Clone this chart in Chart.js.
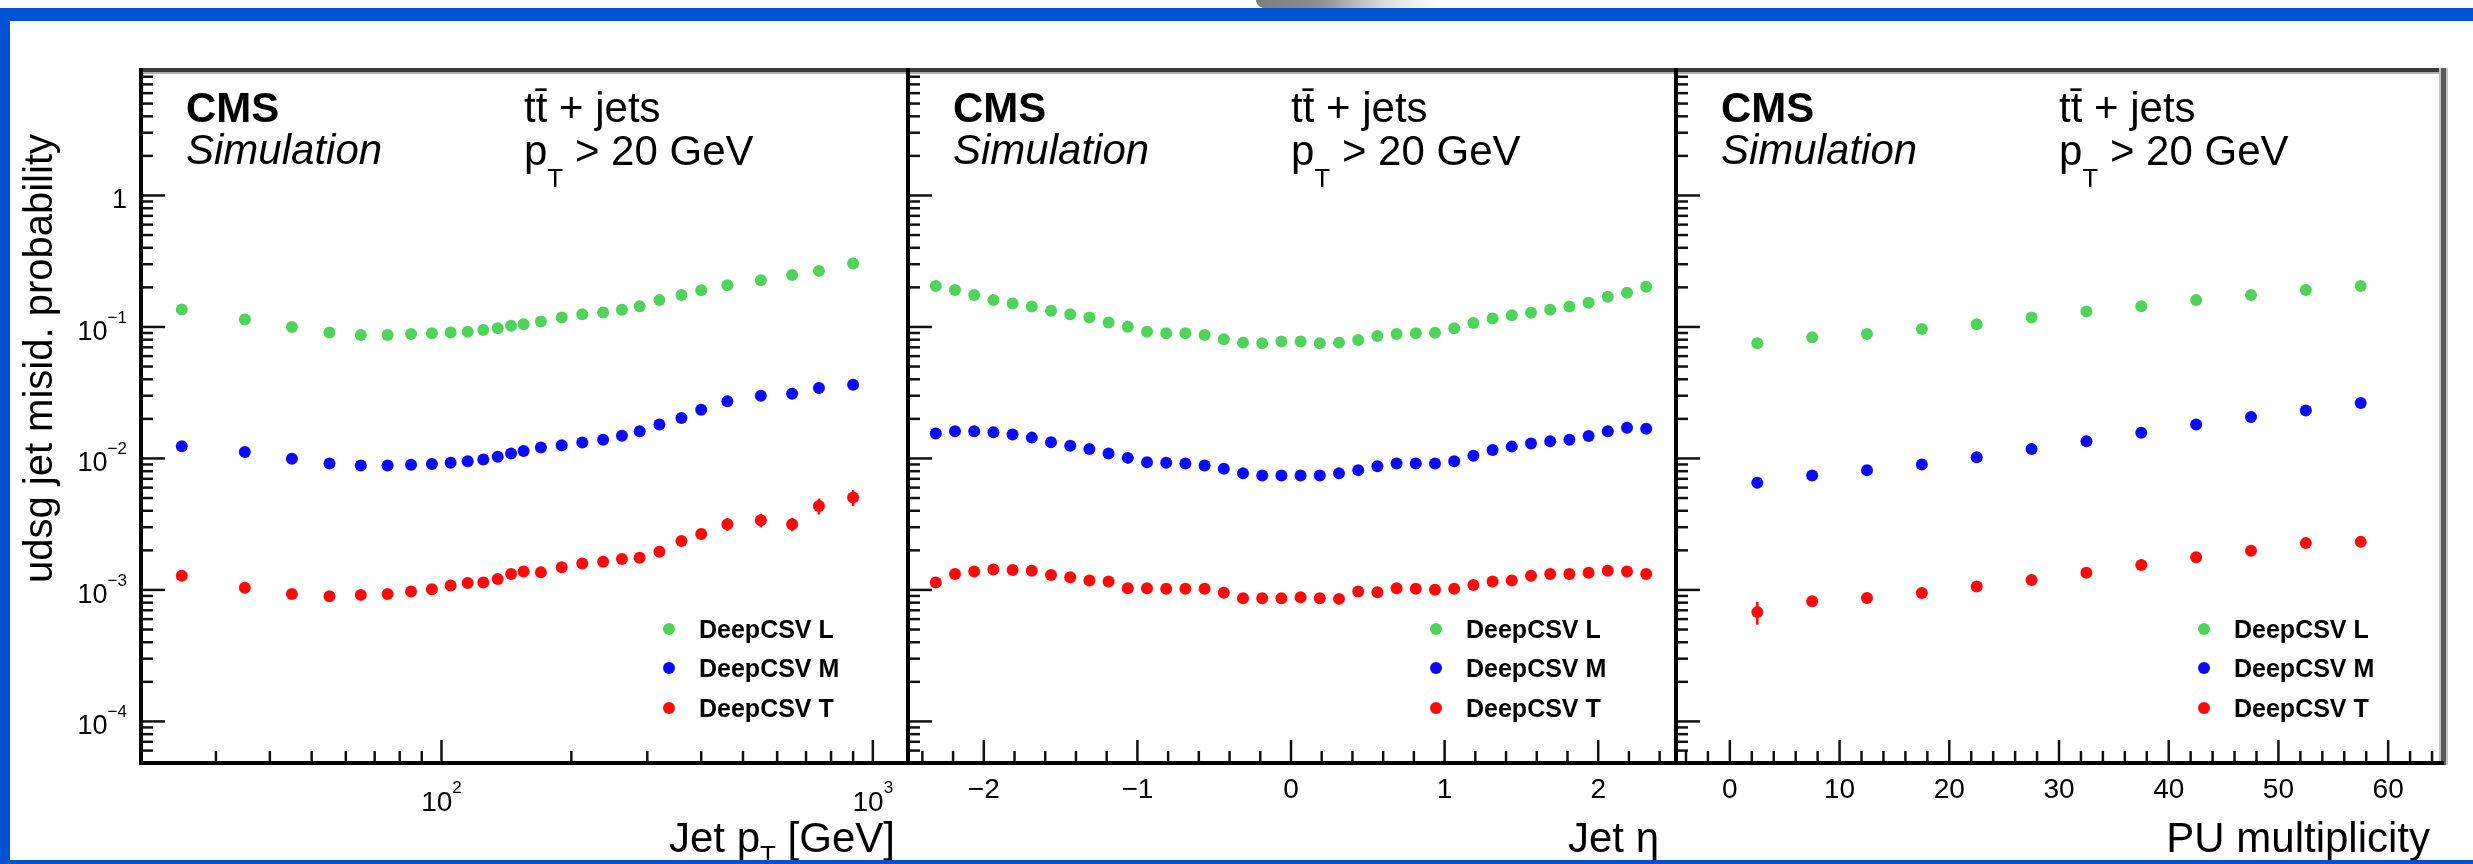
<!DOCTYPE html>
<html>
<head>
<meta charset="utf-8">
<title>udsg jet misidentification probability</title>
<script src="https://cdn.jsdelivr.net/npm/chart.js@4.4.1/dist/chart.umd.min.js"></script>
<style>
  html, body { margin: 0; padding: 0; background: #fff; }
  #page { position: relative; width: 2473px; height: 864px; overflow: hidden; background: #fff; }
  #page canvas { position: absolute; left: 0; top: 0; }
  .band { position: absolute; background: #0052d4; z-index: 5; }
  #smudge {
    position: absolute; left: 1256px; top: 0; width: 185px; height: 9px;
    background: linear-gradient(to right, #7d7d7d 0%, #8f8f8f 35%, rgba(200,200,200,0.6) 70%, rgba(255,255,255,0) 100%);
    border-bottom-left-radius: 12px 9px;
  }
</style>
</head>
<body>
<div id="page">
  <div id="smudge"></div>
  <canvas id="ptChart" width="2473" height="864"></canvas>
  <canvas id="etaChart" width="2473" height="864"></canvas>
  <canvas id="puChart" width="2473" height="864"></canvas>
  <div class="band" style="left:0;top:8px;width:2473px;height:13px"></div>
  <div class="band" style="left:0;top:8px;width:10px;height:856px"></div>
  <div class="band" style="left:0;top:860px;width:2473px;height:4px"></div>
</div>
<script>
const FONT = '"Liberation Sans", Arial, Helvetica, sans-serif';
const seriesNames = ["DeepCSV L", "DeepCSV M", "DeepCSV T"];
const seriesColors = ["#4fd35a", "#0a0aff", "#ff0a0a"];

// misid. probability axis (shared by the three pads)
const probMin = 5e-5;
const probMax = 9;
const probDecades = [1e-4, 1e-3, 1e-2, 1e-1, 1];
const probLabels = [["10", "\u22124"], ["10", "\u22123"], ["10", "\u22122"], ["10", "\u22121"], ["1", ""]];

// jet pT
const ptBins = [25, 35, 45, 55, 65, 75, 85, 95, 105, 115, 125, 135, 145, 155, 170, 190, 212, 237, 262, 288, 320, 360, 400, 460, 550, 650, 750, 900];
const ptLoose = [0.136, 0.114, 0.100, 0.0906, 0.087, 0.087, 0.0885, 0.0896, 0.0906, 0.092, 0.0949, 0.0978, 0.102, 0.105, 0.110, 0.118, 0.125, 0.129, 0.135, 0.144, 0.160, 0.175, 0.190, 0.208, 0.227, 0.248, 0.267, 0.304];
const ptMedium = [0.0124, 0.0112, 0.00995, 0.00916, 0.00885, 0.00885, 0.00896, 0.00906, 0.00927, 0.00954, 0.00983, 0.0103, 0.0109, 0.0114, 0.0121, 0.0126, 0.0132, 0.0139, 0.0149, 0.0161, 0.0181, 0.0203, 0.0235, 0.0272, 0.0300, 0.0311, 0.0343, 0.0364];
const ptTight = [0.00128, 0.00104, 0.000933, 0.000896, 0.000917, 0.000933, 0.000971, 0.00101, 0.00108, 0.00113, 0.00114, 0.00121, 0.00132, 0.00138, 0.00136, 0.00149, 0.00159, 0.00164, 0.00172, 0.00176, 0.00195, 0.00236, 0.00266, 0.00316, 0.00339, 0.00316, 0.00435, 0.00504];
const ptTightErr = [0.00004, 0.00003, 0.00003, 0.00003, 0.00003, 0.00003, 0.00003, 0.00003, 0.00003, 0.00003, 0.00003, 0.00003, 0.00004, 0.00004, 0.00004, 0.00004, 0.00005, 0.00005, 0.00006, 0.00006, 0.00007, 0.00009, 0.0001, 0.00035, 0.0004, 0.00037, 0.0006, 0.0007];
const ptMajor = [100, 1000];
const ptMajorLabels = [["10", "2"], ["10", "3"]];

// jet eta
const etaBins = [-2.3125, -2.1875, -2.0625, -1.9375, -1.8125, -1.6875, -1.5625, -1.4375, -1.3125, -1.1875, -1.0625, -0.9375, -0.8125, -0.6875, -0.5625, -0.4375, -0.3125, -0.1875, -0.0625, 0.0625, 0.1875, 0.3125, 0.4375, 0.5625, 0.6875, 0.8125, 0.9375, 1.0625, 1.1875, 1.3125, 1.4375, 1.5625, 1.6875, 1.8125, 1.9375, 2.0625, 2.1875, 2.3125];
const etaLoose = [0.205, 0.191, 0.175, 0.160, 0.151, 0.143, 0.133, 0.125, 0.118, 0.108, 0.1005, 0.0921, 0.0896, 0.0896, 0.087, 0.0807, 0.076, 0.0752, 0.0774, 0.0774, 0.0752, 0.076, 0.0797, 0.0855, 0.0885, 0.0896, 0.0905, 0.0978, 0.107, 0.116, 0.123, 0.128, 0.135, 0.143, 0.153, 0.170, 0.182, 0.202];
const etaMedium = [0.0155, 0.0161, 0.0161, 0.0158, 0.0152, 0.0144, 0.0133, 0.0125, 0.0118, 0.0109, 0.0101, 0.00937, 0.00928, 0.00917, 0.00885, 0.00836, 0.0077, 0.00743, 0.00743, 0.00743, 0.00743, 0.0077, 0.00815, 0.00874, 0.00917, 0.00917, 0.00917, 0.00954, 0.0105, 0.0116, 0.0123, 0.013, 0.0135, 0.0139, 0.0148, 0.0161, 0.0171, 0.0168];
const etaTight = [0.00114, 0.00132, 0.00138, 0.00143, 0.00142, 0.0014, 0.0013, 0.00125, 0.00118, 0.00116, 0.00103, 0.00103, 0.00102, 0.00102, 0.00102, 0.00095, 0.000865, 0.000865, 0.000865, 0.000881, 0.000865, 0.000855, 0.000971, 0.000961, 0.00103, 0.00102, 0.001005, 0.00102, 0.00109, 0.00116, 0.00118, 0.00128, 0.00132, 0.00132, 0.00135, 0.0014, 0.00138, 0.00132];
const etaMajor = [-2, -1, 0, 1, 2];
const etaMajorLabels = [["\u22122"], ["\u22121"], ["0"], ["1"], ["2"]];

// pileup multiplicity
const puBins = [2.5, 7.5, 12.5, 17.5, 22.5, 27.5, 32.5, 37.5, 42.5, 47.5, 52.5, 57.5];
const puLoose = [0.0752, 0.0836, 0.0885, 0.0966, 0.105, 0.118, 0.131, 0.144, 0.160, 0.175, 0.191, 0.205];
const puMedium = [0.00654, 0.00743, 0.00814, 0.00901, 0.0102, 0.0118, 0.0135, 0.0157, 0.0181, 0.0207, 0.0232, 0.0264];
const puTight = [0.000678, 0.000821, 0.00087, 0.000949, 0.00106, 0.00119, 0.00135, 0.00155, 0.00177, 0.00199, 0.00227, 0.00232];
const puTightErr = [0.000134, 0.00003, 0.00003, 0.00003, 0.00003, 0.00003, 0.00004, 0.00004, 0.00005, 0.00005, 0.00006, 0.00006];
const puMajor = [0, 10, 20, 30, 40, 50, 60];
const puMajorLabels = [["0"], ["10"], ["20"], ["30"], ["40"], ["50"], ["60"]];

function logMinor(min, max) {
  const out = [];
  for (let e = -6; e <= 3; e++) {
    for (let k = 2; k <= 9; k++) {
      const v = k * Math.pow(10, e);
      if (v > min && v < max) out.push(v);
    }
  }
  return out;
}

function linMinor(from, to, step, major) {
  const out = [];
  const n = Math.round((to - from) / step);
  for (let i = 0; i <= n; i++) {
    const v = +(from + i * step).toFixed(4);
    if (!major.includes(v)) out.push(v);
  }
  return out;
}

const probMinor = logMinor(probMin, probMax);

// text runs with sub/superscripts: [{text, size, style, dy}]
function richText(ctx, parts, x, y, align) {
  const fontOf = p => (p.style || "") + " " + p.size + "px " + FONT;
  let w = 0;
  parts.forEach(p => { ctx.font = fontOf(p); w += ctx.measureText(p.text).width; });
  let cx = align === "right" ? x - w : align === "center" ? x - w / 2 : x;
  ctx.textAlign = "left";
  ctx.textBaseline = "alphabetic";
  parts.forEach(p => {
    ctx.font = fontOf(p);
    ctx.fillText(p.text, cx, y + (p.dy || 0));
    cx += ctx.measureText(p.text).width;
  });
}

function powerParts(lab, base, exp, dy) {
  const parts = [{ text: lab[0], size: base }];
  if (lab[1]) parts.push({ text: lab[1], size: exp, dy: dy });
  return parts;
}

function padDecor(spec) {
  return {
    id: "padDecor",
    beforeDatasetsDraw(chart) {
      const { ctx, scales: { y } } = chart;
      ctx.save();
      ctx.lineWidth = 2.5;
      chart.data.datasets.forEach((ds, i) => {
        if (!ds.errors) return;
        const meta = chart.getDatasetMeta(i);
        ctx.strokeStyle = ds.backgroundColor;
        ds.data.forEach((pt, j) => {
          const e = ds.errors[j];
          const px = meta.data[j].x;
          ctx.beginPath();
          ctx.moveTo(px, y.getPixelForValue(pt.y + e));
          ctx.lineTo(px, y.getPixelForValue(pt.y - e));
          ctx.stroke();
        });
      });
      ctx.restore();
    },
    afterDraw(chart) {
      const { ctx, chartArea: a, scales: { x, y } } = chart;
      const w = a.right - a.left;
      ctx.save();

      // pad top edge
      ctx.fillStyle = "#b0b0b0";
      ctx.fillRect(a.left, a.top + 1, w, 3);
      ctx.fillStyle = "#3a3a3a";
      ctx.fillRect(a.left, a.top - 2, w, 4);

      if (spec.closeRight) {
        ctx.fillStyle = "#c4c4c4";
        ctx.fillRect(a.right - 4, a.top - 2, 9, a.bottom - a.top + 6);
        ctx.fillStyle = "#5a5a5a";
        ctx.fillRect(a.right - 2, a.top - 2, 5, a.bottom - a.top + 6);
      }

      // ticks
      ctx.strokeStyle = "#111";
      ctx.lineWidth = 2.5;
      const seg = (x1, y1, x2, y2) => { ctx.beginPath(); ctx.moveTo(x1, y1); ctx.lineTo(x2, y2); ctx.stroke(); };
      probMinor.forEach(v => { const py = y.getPixelForValue(v); seg(a.left, py, a.left + 13, py); });
      probDecades.forEach(v => { const py = y.getPixelForValue(v); seg(a.left, py, a.left + 25, py); });
      spec.xMinor.forEach(v => { const px = x.getPixelForValue(v); seg(px, a.bottom, px, a.bottom - 10); });
      spec.xMajor.forEach(v => { const px = x.getPixelForValue(v); seg(px, a.bottom, px, a.bottom - 21); });

      // axis lines
      ctx.fillStyle = "#000";
      ctx.fillRect(a.left - 1, a.top - 2, 4, a.bottom - a.top + 6);
      ctx.fillRect(a.left - 1, a.bottom, w + 2, 4);

      // tick labels
      ctx.fillStyle = "#000";
      if (spec.yLabels) {
        probDecades.forEach((v, i) => {
          const py = y.getPixelForValue(v);
          richText(ctx, powerParts(probLabels[i], 27, 17, -17), 127, py + 13, "right");
        });
      }
      spec.xMajor.forEach((v, i) => {
        const px = x.getPixelForValue(v);
        richText(ctx, powerParts(spec.xLabels[i], 28, 17, -18), px, spec.labelBase, "center");
      });

      // axis title
      richText(ctx, spec.title, spec.titleRight, 852, "right");

      if (spec.yTitle) {
        ctx.save();
        ctx.translate(52, 134);
        ctx.rotate(-Math.PI / 2);
        ctx.font = "40px " + FONT;
        ctx.textAlign = "right";
        ctx.textBaseline = "alphabetic";
        ctx.fillText("udsg jet misid. probability", 0, 0);
        ctx.restore();
      }

      // experiment and sample labels
      const lx = a.left + 46;
      const rx = a.left + 384;
      richText(ctx, [{ text: "CMS", size: 42, style: "bold" }], lx, 122, "left");
      richText(ctx, [{ text: "Simulation", size: 42, style: "italic" }], lx, 164, "left");
      richText(ctx, [{ text: "tt\u0304 + jets", size: 42 }], rx, 122, "left");
      richText(ctx, [
        { text: "p", size: 42 },
        { text: "T", size: 26, dy: 22 },
        { text: " > 20 GeV", size: 42 }
      ], rx, 165, "left");

      // legend
      const rows = [629, 668, 708];
      seriesNames.forEach((name, i) => {
        ctx.fillStyle = seriesColors[i];
        ctx.beginPath();
        ctx.arc(a.left + 529, rows[i], 6, 0, Math.PI * 2);
        ctx.fill();
        ctx.fillStyle = "#000";
        richText(ctx, [{ text: name, size: 25, style: "bold" }], a.left + 559, rows[i] + 9, "left");
      });

      ctx.restore();
    }
  };
}

function makeDatasets(xs, series, errs) {
  return series.map((vals, i) => ({
    label: seriesNames[i],
    data: xs.map((xv, j) => ({ x: xv, y: vals[j] })),
    errors: errs[i] || null,
    backgroundColor: seriesColors[i],
    borderColor: seriesColors[i],
    pointRadius: 6,
    pointBorderWidth: 0,
    showLine: false
  }));
}

function renderPad(canvasId, left, right, xScale, datasets, spec) {
  const ctx = document.getElementById(canvasId);
  return new Chart(ctx, {
    type: "scatter",
    data: { datasets },
    options: {
      responsive: false,
      animation: false,
      devicePixelRatio: 1,
      events: [],
      layout: { padding: { left: left, right: 2473 - right, top: 70, bottom: 864 - 761 } },
      plugins: { legend: { display: false }, tooltip: { enabled: false } },
      scales: {
        x: Object.assign({ display: false }, xScale),
        y: { type: "logarithmic", min: probMin, max: probMax, display: false }
      }
    },
    plugins: [padDecor(spec)]
  });
}

renderPad("ptChart", 140, 907,
  { type: "logarithmic", min: 20, max: 1200 },
  makeDatasets(ptBins, [ptLoose, ptMedium, ptTight], [null, null, ptTightErr]),
  {
    xMajor: ptMajor, xLabels: ptMajorLabels, xMinor: logMinor(20, 1200), labelBase: 811,
    title: [{ text: "Jet p", size: 42 }, { text: "T", size: 26, dy: 12 }, { text: " [GeV]", size: 42 }],
    titleRight: 895, yLabels: true, yTitle: true
  });

renderPad("etaChart", 907, 1675,
  { type: "linear", min: -2.5, max: 2.5 },
  makeDatasets(etaBins, [etaLoose, etaMedium, etaTight], []),
  {
    xMajor: etaMajor, xLabels: etaMajorLabels, xMinor: linMinor(-2.4, 2.4, 0.2, etaMajor), labelBase: 798,
    title: [{ text: "Jet \u03b7", size: 42 }],
    titleRight: 1659
  });

renderPad("puChart", 1675, 2443,
  { type: "linear", min: -5, max: 65 },
  makeDatasets(puBins, [puLoose, puMedium, puTight], [null, null, puTightErr]),
  {
    xMajor: puMajor, xLabels: puMajorLabels, xMinor: linMinor(-4, 64, 2, puMajor), labelBase: 798,
    title: [{ text: "PU multiplicity", size: 42 }],
    titleRight: 2430, closeRight: true
  });
</script>
</body>
</html>
